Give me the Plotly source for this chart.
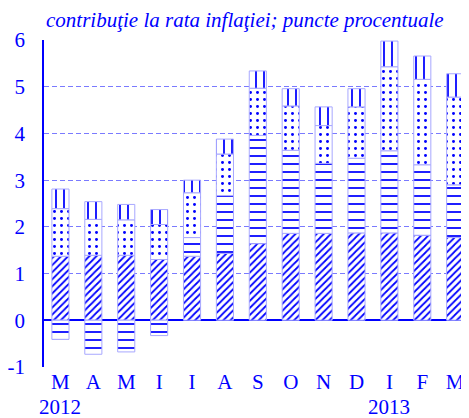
import plotly.graph_objects as go

months = ["M", "A", "M", "I", "I", "A", "S", "O", "N", "D", "I", "F", "M"]
years = ["2012", "", "", "", "", "", "", "", "", "", "2013", "", ""]

# contributions (percentage points), bottom-to-top stacking order
s_diag = [1.37, 1.39, 1.39, 1.30, 1.37, 1.43, 1.64, 1.86, 1.86, 1.87, 1.87, 1.82, 1.77]
s_horiz = [-0.41, -0.73, -0.68, -0.33, 0.40, 1.24, 2.32, 1.78, 1.50, 1.60, 1.76, 1.51, 1.13]
s_dots = [1.02, 0.77, 0.76, 0.75, 0.96, 0.89, 1.01, 0.95, 0.81, 1.10, 1.80, 1.83, 1.88]
s_vert = [0.42, 0.38, 0.33, 0.32, 0.27, 0.32, 0.37, 0.37, 0.40, 0.39, 0.55, 0.50, 0.50]

BLUE = "#0000ff"
EDGE = "#a8a8ff"
FONT = "Liberation Serif"
FS = 21

x = list(range(len(months)))

fig = go.Figure()

def add(vals, shape, size, solidity):
    fig.add_trace(go.Bar(
        x=x, y=vals, width=0.52,
        marker=dict(
            color="white",
            line=dict(color=EDGE, width=1),
            pattern=dict(shape=shape, fgcolor=BLUE, bgcolor="white", fgopacity=1,
                         size=size, solidity=solidity, fillmode="overlay"),
        ),
        showlegend=False, hoverinfo="skip",
    ))

add(s_diag, "/", 5, 0.35)
add(s_horiz, "-", 8, 0.22)
add(s_dots, ".", 7, 0.14)
add(s_vert, "|", 8, 0.22)

fig.update_layout(
    width=461, height=410,
    margin=dict(l=36, r=0, t=32, b=51),
    barmode="relative",
    paper_bgcolor="white", plot_bgcolor="white",
    font=dict(family=FONT, color=BLUE, size=FS),
    xaxis=dict(
        tickmode="array", tickvals=x, ticktext=months, automargin=False,
        range=[-0.5, 12.42], showgrid=False, zeroline=False,
        showline=False, ticks="",
        tickfont=dict(size=FS, family=FONT, color=BLUE),
    ),
    yaxis=dict(
        range=[-1.003, 6.003], tickmode="array", tickvals=[-1, 0, 1, 2, 3, 4, 5, 6],
        ticktext=["-1", "0", "1", "2", "3", "4", "5", "6"], automargin=False,
        showgrid=True, gridcolor="#7a7aff", gridwidth=1, griddash="5px,3px",
        zeroline=True, zerolinecolor=BLUE, zerolinewidth=1.5,
        showline=True, linecolor=BLUE, linewidth=1.5,
        ticks="outside", ticklen=13, tickcolor="rgba(0,0,0,0)",
        tickfont=dict(size=FS, family=FONT, color=BLUE),
    ),
)

for xi, yr in zip(x, years):
    if yr:
        fig.add_annotation(
            text=yr, xref="x", yref="paper", x=xi, y=0, yanchor="middle",
            yshift=-40, showarrow=False, font=dict(family=FONT, size=FS, color=BLUE),
        )

fig.add_annotation(
    text="<i>contribuţie la rata inflaţiei; puncte procentuale</i>",
    xref="paper", yref="paper", x=0, y=1, xanchor="left", yanchor="bottom",
    yshift=6, showarrow=False, font=dict(family=FONT, size=FS, color=BLUE),
)

fig.write_html("out.html")
